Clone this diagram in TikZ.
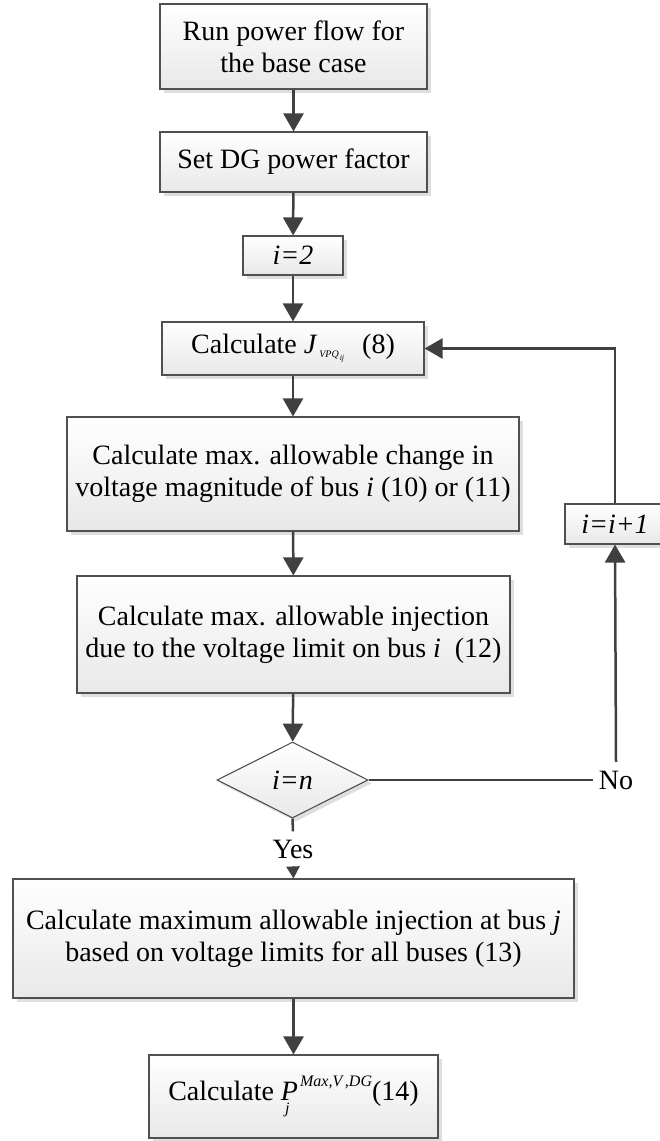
\documentclass[tikz,border=0pt]{standalone}
\usepackage{fontspec}
\setmainfont{Liberation Serif}
\usetikzlibrary{arrows.meta,shapes.geometric,shadows}
\definecolor{lineclr}{HTML}{404040}
\definecolor{edgeclr}{HTML}{505050}
% small helpers for the sub/superscripted symbols
\newcommand{\jvpq}{{\itshape J}\hspace{3pt}\raisebox{-4pt}{\fontsize{10}{10}\selectfont\itshape VPQ\hspace{1pt}\raisebox{-3pt}{\fontsize{8}{8}\selectfont ij}}}
\newcommand{\pmaxdg}{{\itshape P}\rlap{\hspace{-13pt}\raisebox{-13pt}{\fontsize{16}{16}\selectfont\itshape j}}\hspace{2pt}\raisebox{14pt}{\fontsize{16}{16}\selectfont\itshape Max,V\,,DG}}
\tikzset{
  stepbox/.style={draw=edgeclr, line width=1.1pt, top color=white, bottom color=black!9,
    drop shadow={shadow xshift=3.5pt, shadow yshift=-3.5pt, fill=black!13, opacity=1},
    inner sep=0pt, align=center, font=\fontsize{28}{32}\selectfont},
  decision/.style={stepbox, diamond},
  tag/.style={inner sep=0pt, font=\fontsize{28}{32}\selectfont},
  flow/.style={draw=lineclr, line width=2.5pt, -{Triangle[length=18pt,width=20pt]}},
  smallflow/.style={draw=lineclr, line width=2.5pt, -{Triangle[length=12pt,width=13pt]}},
  plainline/.style={draw=lineclr, line width=2.5pt}
}
\begin{document}
\begin{tikzpicture}[x=1pt,y=-1pt]
\useasboundingbox (0,0) rectangle (660,1141);

% process steps
\node[stepbox, minimum width=267pt, minimum height=85pt] (b1) at (293.5,46.5) {Run power flow for\\the base case};
\node[stepbox, minimum width=267pt, minimum height=60pt] (b2) at (293.5,162) {Set DG power factor};
\node[stepbox, minimum width=100pt, minimum height=39pt] (b3) at (293,255.5) {\itshape i=2};
\node[stepbox, minimum width=262pt, minimum height=53pt] (b4) at (293,348.5) {Calculate \jvpq\hspace{18pt}(8)};
\node[stepbox, minimum width=452pt, minimum height=114pt] (b5) at (293,474) {Calculate max. allowable change in\\voltage magnitude of bus \textit{i} (10) or (11)};
\node[stepbox, minimum width=433pt, minimum height=117pt] (b6) at (293.5,634.5) {Calculate max. allowable injection\\due to the voltage limit on bus \textit{i}\ \ (12)};
\node[decision, minimum width=151pt, minimum height=76pt] (d) at (292.5,780) {\itshape i=n};
\node[stepbox, minimum width=561pt, minimum height=119pt] (b7) at (293.5,938.5) {Calculate maximum allowable injection at bus \textit{j}\\based on voltage limits for all buses (13)};
\node[stepbox, minimum width=289pt, minimum height=83pt] (b8) at (293.5,1096.5) {Calculate \pmaxdg(14)};
\node[stepbox, minimum width=100pt, minimum height=40pt] (inc) at (615,524) {\itshape i=i+1};

% branch labels
\node[tag, minimum height=35pt] (yes) at (293,849) {Yes};
\node[tag, minimum width=46pt, minimum height=36pt] (no) at (616,780) {No};

% connectors
\draw[flow] (b1) -- (b2);
\draw[flow] (b2) -- (b3);
\draw[flow] (b3) -- (b4);
\draw[flow] (b4) -- (b5);
\draw[flow] (b5) -- (b6);
\draw[flow] (b6) -- (d);
\draw[plainline] (d.south) -- (yes.north);
\draw[smallflow] (yes.south) -- (b7.north);
\draw[flow] (b7) -- (b8);
\draw[plainline] (d.east) -- (no.west);
\draw[flow] (no.north) -- (inc.south);
\draw[flow] (inc.north) |- (b4.east);
\end{tikzpicture}
\end{document}
